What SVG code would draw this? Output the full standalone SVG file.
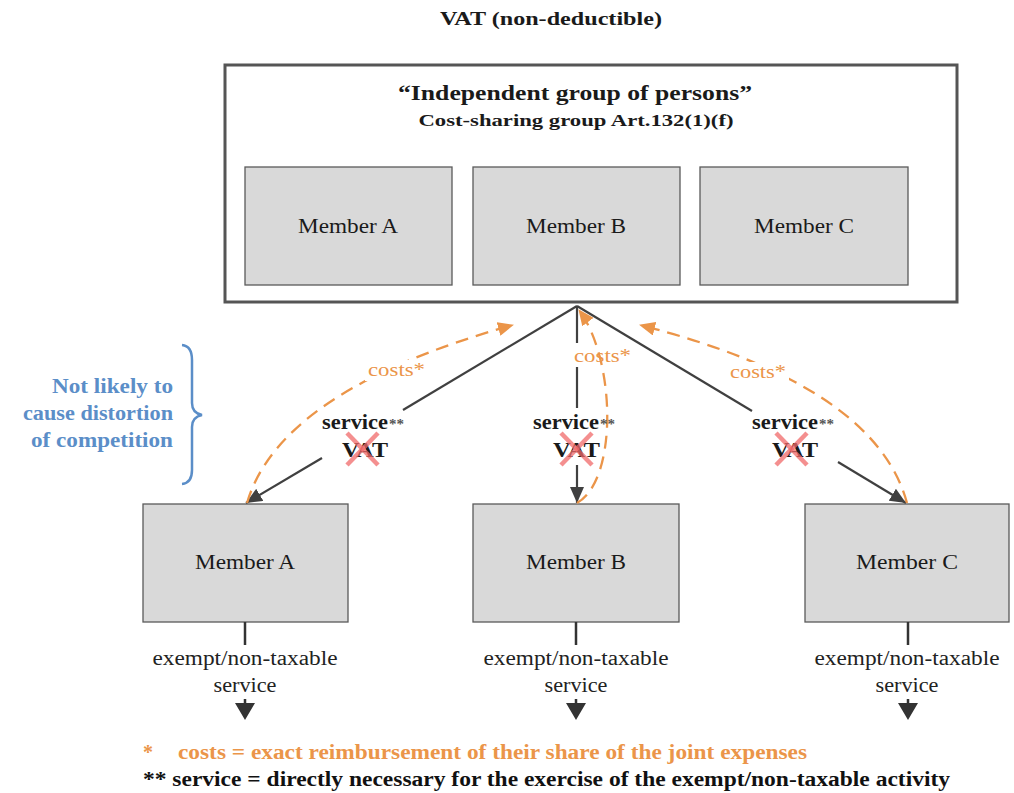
<svg xmlns="http://www.w3.org/2000/svg" width="1014" height="793" viewBox="0 0 1014 793">
<style>
.serif{font-family:"Liberation Serif","Times New Roman",serif}
.b{font-weight:bold}
.box{fill:#d9d9d9;stroke:#5a5a5a;stroke-width:1.3}
.mem{font-family:"Liberation Serif",serif;font-size:21px;fill:#1a1a1a;text-anchor:middle}
.ln{stroke:#404040;stroke-width:2.2;fill:none}
.cost{stroke:#eb9549;stroke-width:2.3;fill:none;stroke-dasharray:13 8}
.costt{font-family:"Liberation Serif",serif;font-size:19px;fill:#eb9549}
.svc{font-family:"Liberation Serif",serif;font-size:21px;font-weight:bold;fill:#1a1a1a}
.star{font-family:"Liberation Serif",serif;font-size:15px;font-weight:bold;fill:#555}
.vat{font-family:"Liberation Serif",serif;font-size:21px;font-weight:bold;fill:#1a1a1a}
.x{stroke:#f06a6a;stroke-width:4.5;stroke-opacity:0.75}
.ex{font-family:"Liberation Serif",serif;font-size:20px;fill:#222;text-anchor:middle}
</style>
<defs>
<marker id="ag" markerUnits="userSpaceOnUse" markerWidth="16" markerHeight="14" refX="16" refY="7" orient="auto">
<path d="M0,0 L16,7 L0,14 z" fill="#404040"/>
</marker>
<marker id="ao" markerUnits="userSpaceOnUse" markerWidth="16" markerHeight="14" refX="15" refY="7" orient="auto">
<path d="M0,0 L16,7 L0,14 z" fill="#eb9549"/>
</marker>
</defs>
<rect width="1014" height="793" fill="#fff"/>

<text x="551" y="25" class="serif b" font-size="19" text-anchor="middle" fill="#1a1a1a" textLength="222" lengthAdjust="spacingAndGlyphs">VAT (non-deductible)</text>

<g id="group">
<rect x="225" y="65" width="732" height="237" fill="#fff" stroke="#555" stroke-width="3"/>
<text x="575" y="100" class="serif b" font-size="22" text-anchor="middle" fill="#1a1a1a" textLength="354" lengthAdjust="spacingAndGlyphs">“Independent group of persons”</text>
<text x="576" y="126" class="serif b" font-size="17" text-anchor="middle" fill="#1a1a1a" textLength="315" lengthAdjust="spacingAndGlyphs">Cost-sharing group Art.132(1)(f)</text>
</g>
<g id="topA"><rect class="box" x="245" y="167" width="207" height="118"/><text class="mem" x="348" y="233" textLength="100" lengthAdjust="spacingAndGlyphs">Member A</text></g>
<g id="topB"><rect class="box" x="473" y="167" width="207" height="118"/><text class="mem" x="576" y="233" textLength="100" lengthAdjust="spacingAndGlyphs">Member B</text></g>
<g id="topC"><rect class="box" x="700" y="167" width="208" height="118"/><text class="mem" x="804" y="233" textLength="100" lengthAdjust="spacingAndGlyphs">Member C</text></g>

<g id="botA"><rect class="box" x="143" y="504" width="205" height="118"/><text class="mem" x="245" y="569" textLength="100" lengthAdjust="spacingAndGlyphs">Member A</text></g>
<g id="botB"><rect class="box" x="473" y="504" width="206" height="118"/><text class="mem" x="576" y="569" textLength="100" lengthAdjust="spacingAndGlyphs">Member B</text></g>
<g id="botC"><rect class="box" x="805" y="504" width="204" height="118"/><text class="mem" x="907" y="569" textLength="102" lengthAdjust="spacingAndGlyphs">Member C</text></g>

<g id="connectors">
<line class="ln" x1="577" y1="306" x2="403" y2="410"/>
<line class="ln" x1="322" y1="458" x2="246" y2="503" marker-end="url(#ag)"/>
<line class="ln" x1="577" y1="306" x2="577" y2="343"/>
<line class="ln" x1="577" y1="367" x2="577" y2="408"/>
<line class="ln" x1="577" y1="465" x2="577" y2="503" marker-end="url(#ag)"/>
<line class="ln" x1="577" y1="306" x2="752" y2="411"/>
<line class="ln" x1="838" y1="462" x2="906" y2="503" marker-end="url(#ag)"/>

<path class="cost" d="M247,503 Q280,390 513,325" marker-end="url(#ao)"/>
<path class="cost" d="M577,503 C618,480 616,360 579,310" marker-end="url(#ao)"/>
<path class="cost" d="M907,503 Q875,385 640,325" marker-end="url(#ao)"/>

<rect x="365" y="360" width="62" height="21" fill="#fff"/>
<rect x="727" y="362" width="62" height="21" fill="#fff"/>

<line x1="245" y1="622" x2="245" y2="645" stroke="#333" stroke-width="2.5"/>
<line x1="576" y1="622" x2="576" y2="645" stroke="#333" stroke-width="2.5"/>
<line x1="908" y1="622" x2="908" y2="645" stroke="#333" stroke-width="2.5"/>
<path d="M245,699 V706 M576,699 V706 M908,699 V706" stroke="#333" stroke-width="2.5"/>
<path d="M235,703 L255,703 L245,720 z M566,703 L586,703 L576,720 z M898,703 L918,703 L908,720 z" fill="#333"/>
</g>

<g id="labels">
<text class="costt" x="368" y="376" textLength="57" lengthAdjust="spacingAndGlyphs">costs*</text>
<text class="costt" x="574" y="362" textLength="57" lengthAdjust="spacingAndGlyphs">costs*</text>
<text class="costt" x="730" y="378" textLength="56" lengthAdjust="spacingAndGlyphs">costs*</text>

<text class="svc" x="322" y="429" textLength="66" lengthAdjust="spacingAndGlyphs">service</text><text class="star" x="389" y="429">**</text>
<text class="vat" x="342" y="457" textLength="46" lengthAdjust="spacingAndGlyphs">VAT</text>
<line class="x" x1="347" y1="433" x2="378" y2="465"/><line class="x" x1="378" y1="433" x2="347" y2="465"/>

<text class="svc" x="533" y="429" textLength="66" lengthAdjust="spacingAndGlyphs">service</text><text class="star" x="600" y="429">**</text>
<text class="vat" x="553" y="457" textLength="47" lengthAdjust="spacingAndGlyphs">VAT</text>
<line class="x" x1="561" y1="433" x2="592" y2="465"/><line class="x" x1="592" y1="433" x2="561" y2="465"/>

<text class="svc" x="752" y="429" textLength="66" lengthAdjust="spacingAndGlyphs">service</text><text class="star" x="819" y="429">**</text>
<text class="vat" x="772" y="457" textLength="46" lengthAdjust="spacingAndGlyphs">VAT</text>
<line class="x" x1="776" y1="433" x2="807" y2="465"/><line class="x" x1="807" y1="433" x2="776" y2="465"/>

<text class="ex" x="245" y="665" textLength="185" lengthAdjust="spacingAndGlyphs">exempt/non-taxable</text>
<text class="ex" x="245" y="692" textLength="63" lengthAdjust="spacingAndGlyphs">service</text>
<text class="ex" x="576" y="665" textLength="185" lengthAdjust="spacingAndGlyphs">exempt/non-taxable</text>
<text class="ex" x="576" y="692" textLength="63" lengthAdjust="spacingAndGlyphs">service</text>
<text class="ex" x="907" y="665" textLength="185" lengthAdjust="spacingAndGlyphs">exempt/non-taxable</text>
<text class="ex" x="907" y="692" textLength="63" lengthAdjust="spacingAndGlyphs">service</text>
</g>

<g id="note">
<path d="M182,345 Q192,346 192,360 V403 Q192,413 202,415 Q192,417 192,427 V470 Q192,483 182,484" fill="none" stroke="#5b8ec8" stroke-width="2.5"/>
<g class="serif b" font-size="21" fill="#5b8ec8" text-anchor="end">
<text x="173" y="393" textLength="121" lengthAdjust="spacingAndGlyphs">Not likely to</text>
<text x="173" y="420" textLength="150" lengthAdjust="spacingAndGlyphs">cause distortion</text>
<text x="173" y="447" textLength="142" lengthAdjust="spacingAndGlyphs">of competition</text>
</g>
</g>

<g id="footnotes" class="serif b" font-size="20">
<text x="143" y="759" fill="#eb9549">*</text>
<text x="178" y="759" fill="#eb9549" textLength="629" lengthAdjust="spacingAndGlyphs">costs = exact reimbursement of their share of the joint expenses</text>
<text x="143" y="786" fill="#111" textLength="807" lengthAdjust="spacingAndGlyphs">** service = directly necessary for the exercise of the exempt/non-taxable activity</text>
</g>
</svg>
